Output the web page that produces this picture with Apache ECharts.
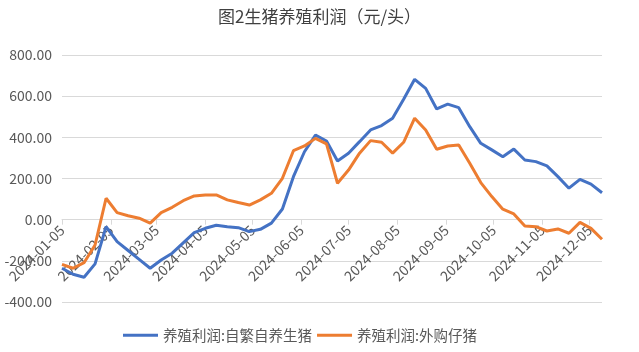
<!DOCTYPE html>
<html>
<head>
<meta charset="utf-8">
<script src="https://cdn.jsdelivr.net/npm/echarts@6/dist/echarts.min.js"></script>
<style>
  html, body { margin: 0; padding: 0; background: #fff; }
  #main { width: 639px; height: 352px; }
</style>
</head>
<body>
<div id="main"></div>
<script>
let mychart = echarts.init(document.getElementById('main'));

// weekly dates (Fridays)
let dates = [
    '2024-01-05', '2024-01-12', '2024-01-19', '2024-01-26', '2024-02-02', '2024-02-09', '2024-02-16', '2024-02-23',
    '2024-03-01', '2024-03-08', '2024-03-15', '2024-03-22', '2024-03-29', '2024-04-05', '2024-04-12', '2024-04-19',
    '2024-04-26', '2024-05-03', '2024-05-10', '2024-05-17', '2024-05-24', '2024-05-31', '2024-06-07', '2024-06-14',
    '2024-06-21', '2024-06-28', '2024-07-05', '2024-07-12', '2024-07-19', '2024-07-26', '2024-08-02', '2024-08-09',
    '2024-08-16', '2024-08-23', '2024-08-30', '2024-09-06', '2024-09-13', '2024-09-20', '2024-09-27', '2024-10-04',
    '2024-10-11', '2024-10-18', '2024-10-25', '2024-11-01', '2024-11-08', '2024-11-15', '2024-11-22', '2024-11-29',
    '2024-12-06', '2024-12-13'
];

// 养殖利润:自繁自养生猪
let selfBred = [
    -236, -265, -280, -215, -34, -107, -150, -193, -236, -196,
    -163, -113, -63, -42, -27, -34, -39, -58, -47, -17,
    52, 209, 330, 411, 382, 285, 323, 379, 436, 457,
    493, 585, 682, 638, 538, 561, 544, 452, 371, 339,
    306, 343, 290, 282, 261, 209, 153, 196, 173, 131
];

// 养殖利润:外购仔猪
let boughtPiglet = [
    -217, -236, -209, -123, 104, 34, 19, 7, -17, 34,
    60, 92, 115, 120, 120, 96, 83, 71, 96, 128,
    201, 335, 358, 395, 368, 177, 241, 323, 384, 376,
    323, 376, 493, 436, 342, 358, 363, 274, 180, 112,
    51, 28, -31, -34, -55, -45, -66, -13, -42, -95
];

// x axis labels
let monthTicks = [
    '2024-01-05', '2024-02-05', '2024-03-05', '2024-04-05', '2024-05-05', '2024-06-05',
    '2024-07-05', '2024-08-05', '2024-09-05', '2024-10-05', '2024-11-05', '2024-12-05'
];

let seriesNames = ['养殖利润:自繁自养生猪', '养殖利润:外购仔猪'];

// dates -> ms, UTC so no timezone drift
function ts(s) {
    let p = s.split('-');
    return Date.UTC(+p[0], +p[1] - 1, +p[2]);
}

function fmt(v) {
    let d = new Date(v);
    let m = String(d.getUTCMonth() + 1).padStart(2, '0');
    let dd = String(d.getUTCDate()).padStart(2, '0');
    return d.getUTCFullYear() + '-' + m + '-' + dd;
}

let tickValues = monthTicks.map(ts);
let font = 'Noto Sans CJK SC';

let gridTop = 55;
let gridBottom = 50;
let yMin = -400;
let yMax = 800;
// onZero doesn't kick in here, so lift the x axis up to y = 0 by hand
let plotH = 352 - gridTop - gridBottom;
let zeroLift = plotH * (0 - yMin) / (yMax - yMin);

let option = {
    animation: false,
    title: {
        text: '图2生猪养殖利润（元/头）',
        left: 'center',
        top: 8,
        padding: 0,
        textStyle: {
            fontFamily: font,
            fontSize: 17,
            fontWeight: 'normal',
            color: '#404040'
        }
    },
    grid: {
        left: 62,
        right: 37,
        top: gridTop,
        bottom: gridBottom,
        outerBoundsMode: 'none'
    },
    legend: {
        data: seriesNames,
        left: 118,
        top: 323,
        itemGap: 5,
        itemWidth: 35,
        itemHeight: 3,
        icon: 'rect',
        textStyle: {
            fontFamily: font,
            fontSize: 14.5,
            color: '#595959'
        }
    },
    xAxis: {
        type: 'value',
        min: ts(dates[0]),
        max: ts(dates[dates.length - 1]),
        offset: -zeroLift,
        axisLine: {
            onZero: false,
            lineStyle: { color: '#d9d9d9', width: 1 }
        },
        axisTick: {
            show: true,
            length: 5,
            customValues: tickValues,
            lineStyle: { color: '#d9d9d9' }
        },
        axisLabel: {
            customValues: tickValues,
            rotate: 45,
            margin: 8,
            fontFamily: font,
            fontSize: 14,
            color: '#595959',
            formatter: fmt
        },
        splitLine: { show: false }
    },
    yAxis: {
        type: 'value',
        min: yMin,
        max: yMax,
        interval: 200,
        axisLine: { show: false, onZero: false },
        axisTick: { show: false },
        axisLabel: {
            margin: 10,
            fontFamily: font,
            fontSize: 14,
            color: '#595959',
            formatter: function (v) {
                return v.toFixed(2);
            }
        },
        splitLine: {
            lineStyle: { color: '#d9d9d9', width: 1 }
        }
    },
    series: [
        {
            name: seriesNames[0],
            type: 'line',
            zlevel: 1,
            showSymbol: false,
            data: dates.map((d, i) => [ts(d), selfBred[i]]),
            itemStyle: { color: '#4472C4' },
            lineStyle: { color: '#4472C4', width: 3 }
        },
        {
            name: seriesNames[1],
            type: 'line',
            zlevel: 1,
            showSymbol: false,
            data: dates.map((d, i) => [ts(d), boughtPiglet[i]]),
            itemStyle: { color: '#ED7D31' },
            lineStyle: { color: '#ED7D31', width: 3 }
        }
    ]
};
mychart.setOption(option);
</script>
</body>
</html>
